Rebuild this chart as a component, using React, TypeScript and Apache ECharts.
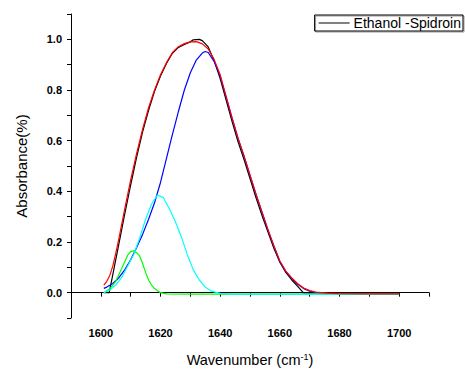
import React, { useEffect, useRef } from "react";
import * as echarts from "echarts";

// Measured spectrum (black)
const dataX = [1601, 1602, 1602.8, 1604, 1605, 1606, 1608, 1610, 1612, 1614, 1616, 1618, 1620, 1622, 1624, 1626, 1628, 1630, 1631, 1633, 1634, 1636, 1638, 1640, 1642, 1644, 1646, 1648, 1650, 1652, 1654, 1656, 1658, 1660, 1662, 1664, 1666, 1668, 1680, 1690, 1700];
const dataY = [0.0, 0.0, 0.0, 0.07, 0.13, 0.19, 0.31, 0.425, 0.535, 0.635, 0.72, 0.795, 0.855, 0.905, 0.945, 0.968, 0.98, 0.99, 0.998, 1.0, 0.995, 0.97, 0.915, 0.845, 0.76, 0.675, 0.595, 0.525, 0.45, 0.375, 0.305, 0.24, 0.175, 0.12, 0.08, 0.05, 0.025, -0.002, -0.002, -0.002, -0.002];

// Cumulative fit (red)
const fitX = [1601, 1602, 1603, 1604, 1605, 1606, 1608, 1610, 1612, 1614, 1616, 1618, 1620, 1622, 1624, 1626, 1628, 1630, 1632, 1634, 1636, 1638, 1640, 1642, 1644, 1646, 1648, 1650, 1652, 1654, 1656, 1658, 1660, 1662, 1664, 1666, 1668, 1670, 1672, 1676, 1680, 1690, 1700];
const fitY = [0.03, 0.045, 0.068, 0.105, 0.155, 0.21, 0.33, 0.445, 0.55, 0.645, 0.73, 0.8, 0.86, 0.908, 0.948, 0.971, 0.983, 0.99, 0.991, 0.982, 0.962, 0.92, 0.86, 0.775, 0.69, 0.61, 0.54, 0.465, 0.39, 0.32, 0.25, 0.185, 0.125, 0.085, 0.058, 0.035, 0.018, 0.008, 0.002, -0.002, -0.004, -0.005, -0.005];

// Peak 1 (blue)
const peak1X = [1601, 1602, 1604, 1606, 1608, 1610, 1612, 1614, 1616, 1618, 1620, 1622, 1624, 1626, 1628, 1630, 1632, 1634, 1635, 1636, 1638, 1640, 1642, 1644, 1646, 1648, 1650, 1652, 1654, 1656, 1658, 1660, 1662, 1664, 1666, 1668, 1670, 1672, 1676, 1680, 1690, 1700];
const peak1Y = [0.017, 0.022, 0.036, 0.058, 0.09, 0.13, 0.178, 0.23, 0.29, 0.355, 0.435, 0.53, 0.625, 0.715, 0.8, 0.868, 0.918, 0.946, 0.952, 0.948, 0.912, 0.855, 0.772, 0.688, 0.608, 0.538, 0.463, 0.388, 0.318, 0.248, 0.183, 0.123, 0.083, 0.056, 0.033, 0.016, 0.006, 0.0, -0.003, -0.005, -0.006, -0.006];

// Peak 2 (cyan)
const peak2X = [1601, 1603, 1605, 1607, 1609, 1611, 1613, 1615, 1617, 1619, 1621, 1623, 1625, 1627, 1629, 1631, 1633, 1635, 1637, 1640, 1645, 1700];
const peak2Y = [0.0, 0.01, 0.03, 0.06, 0.105, 0.15, 0.215, 0.29, 0.35, 0.385, 0.375, 0.33, 0.28, 0.22, 0.15, 0.09, 0.05, 0.022, 0.006, -0.003, -0.006, -0.006];

// Peak 3 (green)
const peak3X = [1601, 1603, 1605, 1607, 1609, 1610, 1611, 1612, 1613, 1614, 1615, 1616, 1617, 1618, 1619, 1620, 1622, 1630, 1700];
const peak3Y = [0.0, 0.015, 0.045, 0.095, 0.148, 0.162, 0.165, 0.158, 0.145, 0.115, 0.08, 0.05, 0.03, 0.016, 0.008, 0.0, -0.005, -0.006, -0.006];

const legendName = "Ethanol -Spidroin";

const zip = (xs: number[], ys: number[]) => xs.map((x, i) => [x, ys[i]]);

const FONT = "'Liberation Sans', Arial, sans-serif";

export default function App() {
  const ref = useRef<HTMLDivElement>(null);
  useEffect(() => {
    document.body.style.margin = "0";
    if (!ref.current) return;
    const chart = echarts.init(ref.current, null, { renderer: "svg" });
    const line = (name: string, xs: number[], ys: number[], color: string, z: number) => ({
      name,
      type: "line",
      data: zip(xs, ys),
      showSymbol: false,
      symbol: "none",
      smooth: false,
      z,
      lineStyle: { color, width: 1.2 },
      itemStyle: { color },
    });
    chart.setOption({
      animation: false,
      backgroundColor: "#ffffff",
      grid: { left: 71, right: 37, top: 14, bottom: 53, containLabel: false, outerBoundsMode: "none" },
      legend: {
        data: [legendName],
        right: 3,
        top: 15,
        icon: "rect",
        itemWidth: 31,
        itemHeight: 1,
        itemGap: 4,
        padding: [1, 2, 1, 4],
        borderColor: "#000",
        borderWidth: 1,
        textStyle: { fontFamily: FONT, fontSize: 14, color: "#000", padding: [0, 0, 0, -1] },
        itemStyle: { color: "#000" },
        shadowColor: "rgba(0,0,0,0.4)",
        shadowOffsetX: 1,
        shadowOffsetY: 1,
      },
      xAxis: {
        type: "value",
        min: 1590,
        max: 1710,
        interval: 10,
        name: "Wavenumber (cm{sup|-1})",
        nameLocation: "middle",
        nameGap: 34,
        nameTextStyle: {
          fontFamily: FONT,
          fontSize: 14.5,
          color: "#000",
          rich: {
            sup: { fontFamily: FONT, fontSize: 9, color: "#000", verticalAlign: "top", lineHeight: 9, padding: [0, 0, 9, 0] },
          },
        },
        splitLine: { show: false },
        axisLine: { lineStyle: { color: "#000", width: 1 } },
        axisTick: { show: true, inside: false, length: 4, lineStyle: { color: "#000" } },
        axisLabel: {
          margin: 9,
          fontFamily: FONT,
          fontSize: 11,
          fontWeight: "bold",
          color: "#000",
          formatter: (v: number) => (Math.round(v) % 20 === 0 && v >= 1600 && v <= 1700 ? String(Math.round(v)) : ""),
        },
      },
      yAxis: {
        type: "value",
        min: -0.1,
        max: 1.1,
        interval: 0.1,
        name: "Absorbance(%)",
        nameLocation: "middle",
        nameGap: 42,
        nameTextStyle: { fontFamily: FONT, fontSize: 15, color: "#000" },
        splitLine: { show: false },
        axisLine: { lineStyle: { color: "#000", width: 1 } },
        axisTick: { show: true, inside: false, length: 4, lineStyle: { color: "#000" } },
        axisLabel: {
          margin: 9,
          fontFamily: FONT,
          fontSize: 11,
          fontWeight: "bold",
          color: "#000",
          formatter: (v: number) => {
            const k = Math.round(v * 10);
            return k >= 0 && k <= 10 && k % 2 === 0 ? (k / 10).toFixed(1) : "";
          },
        },
      },
      series: [
        line(legendName, dataX, dataY, "#000000", 2),
        line("Peak 1", peak1X, peak1Y, "#0000ff", 3),
        line("Peak 3", peak3X, peak3Y, "#00ff00", 4),
        line("Peak 2", peak2X, peak2Y, "#00ffff", 5),
        line("Cumulative Fit", fitX, fitY, "#ff0000", 6),
      ],
    });
    return () => chart.dispose();
  }, []);
  return <div ref={ref} style={{ width: 466, height: 371 }} />;
}
